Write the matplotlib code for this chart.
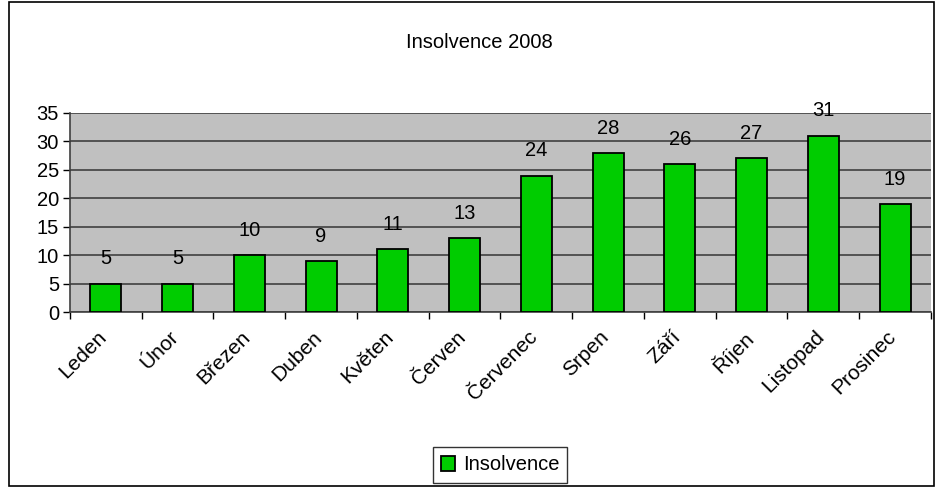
import matplotlib
matplotlib.use("Agg")
import matplotlib.pyplot as plt
import matplotlib.transforms as mtransforms
from matplotlib.patches import Rectangle

# data
months = ["Leden", "Únor", "Březen", "Duben", "Květen", "Červen",
          "Červenec", "Srpen", "Září", "Říjen", "Listopad", "Prosinec"]
values = [5, 5, 10, 9, 11, 13, 24, 28, 26, 27, 31, 19]

plt.rcParams['font.family'] = ['Liberation Sans', 'DejaVu Sans']
fs = 14.5

fig = plt.figure(figsize=(9.36, 4.88), dpi=100)
ax = fig.add_axes([70 / 936, 1 - 312 / 488, 861 / 936, 199 / 488])

# frame round the whole chart
fig.patches.append(Rectangle((9 / 936, 2 / 488), 925 / 936, 484 / 488,
                             transform=fig.transFigure, fill=False,
                             edgecolor='black', linewidth=1.2))

ax.set_facecolor('#c0c0c0')
x = range(len(months))
bars = ax.bar(x, values, width=0.43, color='#00cc00', edgecolor='black',
              linewidth=1.3, zorder=3, label='Insolvence')

for xi, v in zip(x, values):
    ax.annotate(str(v), (xi, v), xytext=(0, 11), textcoords='offset points',
                ha='center', va='bottom', fontsize=fs)

ax.set_xlim(-0.5, len(months) - 0.5)
ax.set_ylim(0, 35)
ax.set_yticks(range(0, 36, 5))
ax.yaxis.grid(True, color='#404040', linewidth=1.2, zorder=0)
ax.tick_params(axis='y', labelsize=fs, direction='out', length=5, width=1, pad=3)

ax.set_xticks(x)
ax.set_xticklabels(months, rotation=45, ha='right', rotation_mode='anchor', fontsize=15)
ax.tick_params(axis='x', length=0, pad=11)
# shift month labels a little to the left, as in the original
shift = mtransforms.ScaledTranslation(-0.09, 0, fig.dpi_scale_trans)
for lbl in ax.get_xticklabels():
    lbl.set_transform(lbl.get_transform() + shift)
ax.set_xticks([i + 0.5 for i in range(-1, len(months))], minor=True)
ax.tick_params(axis='x', which='minor', length=5, width=1, direction='out')

for s in ['top', 'right']:
    ax.spines[s].set_visible(False)
ax.spines['left'].set_color('#404040')
ax.spines['bottom'].set_color('#404040')
ax.spines['left'].set_linewidth(1.2)
ax.spines['bottom'].set_linewidth(1.2)

fig.text(479 / 936, 1 - 43 / 488, "Insolvence 2008", ha='center', va='center', fontsize=fs)

leg = fig.legend(handles=[bars], labels=['Insolvence'], loc='center',
                 bbox_to_anchor=(500 / 936, 1 - 465 / 488), fontsize=fs,
                 frameon=True, fancybox=False, edgecolor='black',
                 handlelength=0.7, handleheight=0.7, handletextpad=0.4,
                 borderpad=0.4)
leg.get_frame().set_linewidth(1)

fig.savefig("out.png", dpi=100)
